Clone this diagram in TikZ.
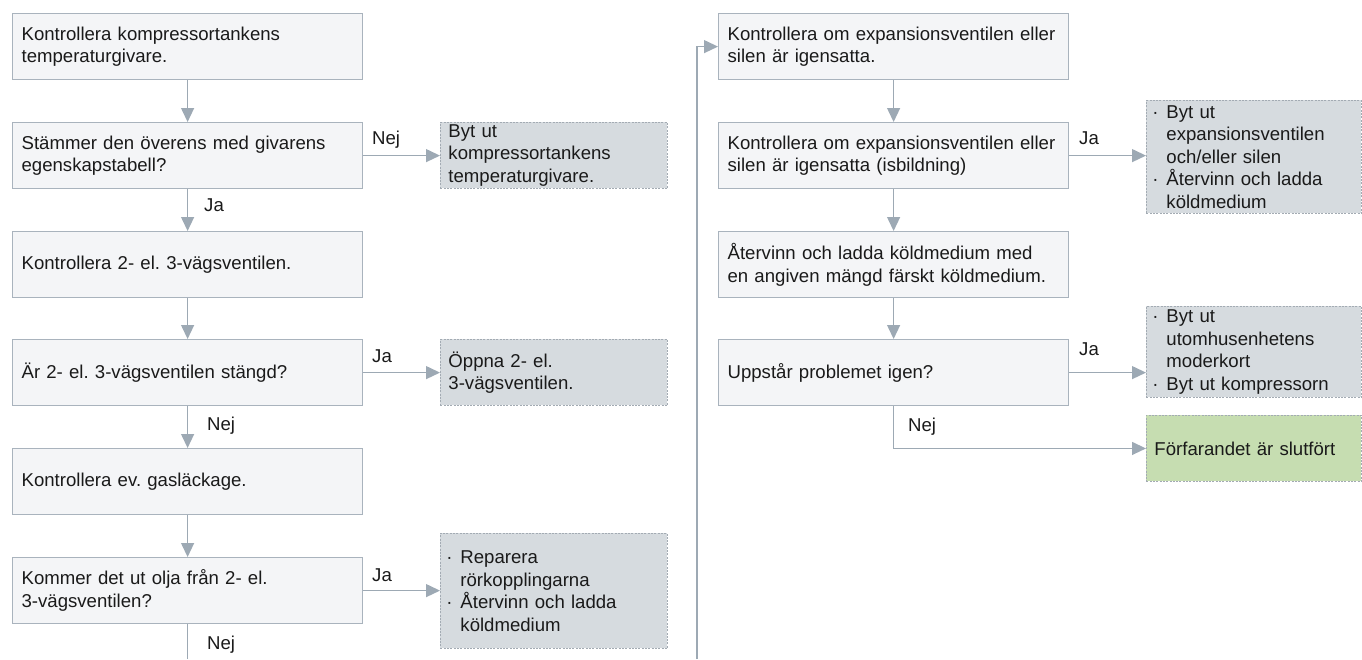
\documentclass[tikz,border=0pt]{standalone}
\usepackage{fontspec}
\setmainfont{Liberation Sans}
\usetikzlibrary{arrows.meta,calc}
\frenchspacing

\definecolor{edgeclr}{HTML}{9DA9B4}
\definecolor{boxline}{HTML}{A9B3BD}
\definecolor{boxfill}{HTML}{F4F5F7}
\definecolor{notefill}{HTML}{D6DBDF}
\definecolor{noteline}{HTML}{A3ABB3}
\definecolor{donefill}{HTML}{C6DDB1}
\definecolor{txt}{HTML}{1A1A1A}

% bullet item and its continuation line, never broken
\newcommand\itm[1]{\mbox{\makebox[16pt][l]{\hspace{2pt}·}#1}}
\newcommand\cont[1]{\mbox{\hspace*{16pt}#1}}

\tikzset{
  stepbox/.style={draw=boxline, fill=boxfill, line width=1.2pt,
    anchor=north west, inner xsep=9pt, inner ysep=0pt,
    text width=#1-18pt, minimum height=66pt, align=left,
    font=\fontsize{18.6}{22.5}\selectfont, text=txt},
  notebox/.style={draw=noteline, fill=notefill, line width=0.9pt,
    dash pattern=on 2pt off 1.3pt,
    anchor=north west, inner xsep=8pt, inner ysep=0pt,
    text width=#1-16pt, align=left,
    font=\fontsize{18.6}{22.5}\selectfont, text=txt},
  bulbox/.style={notebox=#1, inner xsep=4pt, text width=#1-8pt},
  donebox/.style={notebox=#1, fill=donefill},
  arr/.style={draw=edgeclr, line width=1.3pt,
    -{Triangle[length=14pt,width=13pt,fill=edgeclr]}},
  ln/.style={draw=edgeclr, line width=1.3pt},
  lbl/.style={anchor=base west, inner sep=0pt,
    font=\fontsize{18.6}{22.5}\selectfont, text=txt},
}

\begin{document}
\begin{tikzpicture}[x=1pt, y=-1pt]
\useasboundingbox (0,0) rectangle (1362,659);

% left column
\node[stepbox=350pt] (b1) at (12,13) {Kontrollera kompressortankens\\temperaturgivare.};
\node[stepbox=350pt] (b2) at (12,122) {Stämmer den överens med givarens\\egenskapstabell?};
\node[stepbox=350pt] (b3) at (12,231) {Kontrollera 2- el. 3-vägsventilen.};
\node[stepbox=350pt] (b4) at (12,339) {Är 2- el. 3-vägsventilen stängd?};
\node[stepbox=350pt] (b5) at (12,448) {Kontrollera ev. gasläckage.};
\node[stepbox=350pt] (b6) at (12,557) {Kommer det ut olja från 2- el.\\3-vägsventilen?};

% left notes
\node[notebox=227pt, minimum height=66pt] (s1) at (440,122) {Byt ut\\kompressortankens\\temperaturgivare.};
\node[notebox=227pt, minimum height=66pt] (s2) at (440,339) {Öppna 2- el.\\3-vägsventilen.};
\node[bulbox=227pt, minimum height=115pt] (s3) at (440,533) {\itm{Reparera}\\\cont{rörkopplingarna}\\\itm{Återvinn och ladda}\\\cont{köldmedium}};

% right column
\node[stepbox=350pt] (r1) at (718,13) {Kontrollera om expansionsventilen eller\\silen är igensatta.};
\node[stepbox=350pt] (r2) at (718,122) {Kontrollera om expansionsventilen eller\\silen är igensatta (isbildning)};
\node[stepbox=350pt] (r3) at (718,231) {Återvinn och ladda köldmedium med\\en angiven mängd färskt köldmedium.};
\node[stepbox=350pt] (r4) at (718,339) {Uppstår problemet igen?};

% right notes
\node[bulbox=215pt, minimum height=113pt] (t1) at (1146,100) {\itm{Byt ut}\\\cont{expansionsventilen}\\\cont{och/eller silen}\\\itm{Återvinn och ladda}\\\cont{köldmedium}};
\node[bulbox=215pt, minimum height=91pt] (t2) at (1146,306) {\itm{Byt ut}\\\cont{utomhusenhetens}\\\cont{moderkort}\\\itm{Byt ut kompressorn}};
\node[donebox=215pt, minimum height=66pt] (done) at (1146,415) {Förfarandet är slutfört};

% free ends at the lower edge
\coordinate (lout) at (b6.south |- 0,659);
\coordinate (rin) at (697,659);

% connectors, left column
\draw[arr] (b1.south) -- (b2.north);
\draw[arr] (b2.east) -- (b2.east -| s1.west);
\draw[arr] (b2.south) -- (b3.north);
\draw[arr] (b3.south) -- (b4.north);
\draw[arr] (b4.east) -- (b4.east -| s2.west);
\draw[arr] (b4.south) -- (b5.north);
\draw[arr] (b5.south) -- (b6.north);
\draw[arr] (b6.east) -- (b6.east -| s3.west);
\draw[ln] (b6.south) -- (lout);

% connectors, right column
\draw[arr] (rin) |- (r1.west);
\draw[arr] (r1.south) -- (r2.north);
\draw[arr] (r2.east) -- (r2.east -| t1.west);
\draw[arr] (r2.south) -- (r3.north);
\draw[arr] (r3.south) -- (r4.north);
\draw[arr] (r4.east) -- (r4.east -| t2.west);
\draw[arr] (r4.south) |- (done.west);

% branch labels
\node[lbl] (l1) at (372,144) {Nej};
\node[lbl] (l2) at (204,211) {Ja};
\node[lbl] (l3) at (372,362) {Ja};
\node[lbl] (l4) at (207,430) {Nej};
\node[lbl] (l5) at (372,581) {Ja};
\node[lbl] (l6) at (207,649) {Nej};
\node[lbl] (l7) at (1079,144) {Ja};
\node[lbl] (l8) at (1079,355) {Ja};
\node[lbl] (l9) at (908,431) {Nej};
\end{tikzpicture}
\end{document}
